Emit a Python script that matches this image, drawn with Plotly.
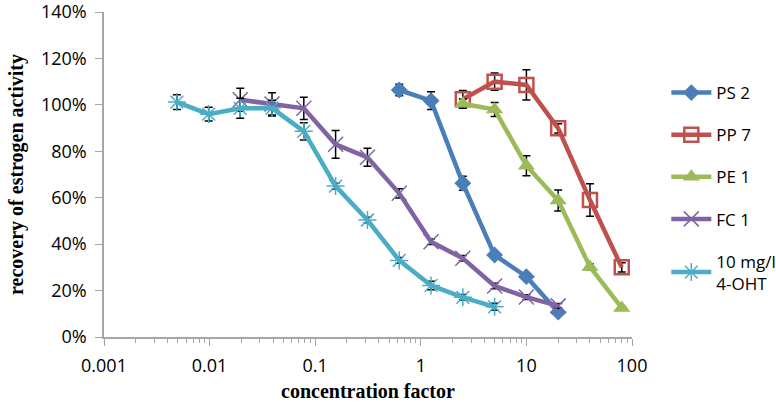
import plotly.graph_objects as go

# ---- data ----
ps2_x = [0.625, 1.25, 2.5, 5, 10, 20]
ps2_y = [1.064, 1.018, 0.662, 0.353, 0.260, 0.107]
ps2_err = [0.025, 0.038, 0.030, 0.015, 0.012, 0.010]

pp7_x = [2.5, 5, 10, 20, 40, 80]
pp7_y = [1.024, 1.100, 1.086, 0.899, 0.590, 0.300]
pp7_err = [0.038, 0.037, 0.065, 0.020, 0.070, 0.020]

pe1_x = [2.5, 5, 10, 20, 40, 80]
pe1_y = [1.005, 0.980, 0.738, 0.588, 0.302, 0.125]
pe1_err = [0.020, 0.030, 0.043, 0.045, 0.012, 0.008]

fc1_x = [0.0195, 0.039, 0.078, 0.156, 0.3125, 0.625, 1.25, 2.5, 5, 10, 20]
fc1_y = [1.022, 1.004, 0.985, 0.830, 0.774, 0.619, 0.410, 0.339, 0.220, 0.172, 0.134]
fc1_err = [0.050, 0.048, 0.048, 0.060, 0.039, 0.020, 0.012, 0.012, 0.012, 0.010, 0.010]

oht_x = [0.0049, 0.0098, 0.0195, 0.039, 0.078, 0.156, 0.3125, 0.625, 1.25, 2.5, 5]
oht_y = [1.012, 0.960, 0.985, 0.986, 0.886, 0.650, 0.504, 0.330, 0.222, 0.171, 0.130]
oht_err = [0.032, 0.030, 0.043, 0.034, 0.037, 0.012, 0.012, 0.012, 0.018, 0.012, 0.015]

series = [
    ("PS 2", ps2_x, ps2_y, ps2_err, "#4A7EBB", "diamond", 13, False),
    ("PP 7", pp7_x, pp7_y, pp7_err, "#C0504D", "square-open", 14, True),
    ("PE 1", pe1_x, pe1_y, pe1_err, "#9BBB59", "triangle-up", 15, False),
    ("FC 1", fc1_x, fc1_y, fc1_err, "#8064A2", "x-thin", 15, True),
    ("10 mg/l<br>4-OHT", oht_x, oht_y, oht_err, "#4BACC6", "asterisk-open", 15, True),
]

y_ticks = [0, 0.2, 0.4, 0.6, 0.8, 1.0, 1.2, 1.4]
y_ticktext = ["0%", "20%", "40%", "60%", "80%", "100%", "120%", "140%"]
x_ticks = [0.001, 0.01, 0.1, 1, 10, 100]
x_ticktext = ["0.001", "0.01", "0.1", "1", "10", "100"]

fig = go.Figure()
for i, (name, xs, ys, es, col, sym, sz, openm) in enumerate(series):
    marker = dict(symbol=sym, size=sz, color=col)
    if openm:
        marker["line"] = dict(color=col, width=2.5 if sym == "square-open" else 1.5)
    fig.add_trace(go.Scatter(
        x=xs, y=ys, name=name, mode="lines+markers",
        line=dict(color=col, width=4.5),
        marker=marker,
        error_y=dict(type="data", array=es, color="black", thickness=1.5, width=4),
        legendgroup="g%d" % i,
    ))

font_sans = "Open Sans, Liberation Sans, sans-serif"
font_serif = "Liberation Serif, Times New Roman, serif"

fig.update_layout(
    width=776, height=405,
    margin=dict(l=104, r=144, t=12, b=68, autoexpand=False),
    paper_bgcolor="white", plot_bgcolor="white",
    font=dict(family=font_sans, size=16, color="black"),
    legend=dict(x=1.065, y=0.806, xanchor="left", yanchor="top",
                font=dict(family=font_sans, size=17, color="black"),
                tracegroupgap=17, itemwidth=40, bgcolor="rgba(0,0,0,0)"),
    showlegend=True,
)
fig.update_xaxes(
    type="log", range=[-3, 2], automargin=False,
    tickvals=x_ticks, ticktext=x_ticktext,
    ticks="outside", ticklen=7, tickcolor="#A6A6A6",
    showline=True, linecolor="#A6A6A6", linewidth=1.5,
    showgrid=False, zeroline=False,
    tickfont=dict(size=18), ticklabeloverflow="allow", ticklabelstandoff=5,
    minor=dict(ticks="outside", ticklen=4, tickcolor="#A6A6A6", dtick="D1", showgrid=False),
    title=dict(text="<b>concentration factor</b>", font=dict(family=font_serif, size=20), standoff=8),
)
fig.update_yaxes(
    range=[0, 1.4], automargin=False,
    tickvals=y_ticks, ticktext=y_ticktext,
    ticks="outside", ticklen=7, tickcolor="#A6A6A6",
    showline=True, linecolor="#A6A6A6", linewidth=1.5,
    showgrid=False, zeroline=False,
    tickfont=dict(size=18), ticklabeloverflow="allow", ticklabelstandoff=5,
    title=dict(text="<b>recovery of estrogen activity</b>", font=dict(family=font_serif, size=20), standoff=12),
)

fig.write_html("out.html", config={"displayModeBar": False},
               post_script="document.body.style.margin='0';")
